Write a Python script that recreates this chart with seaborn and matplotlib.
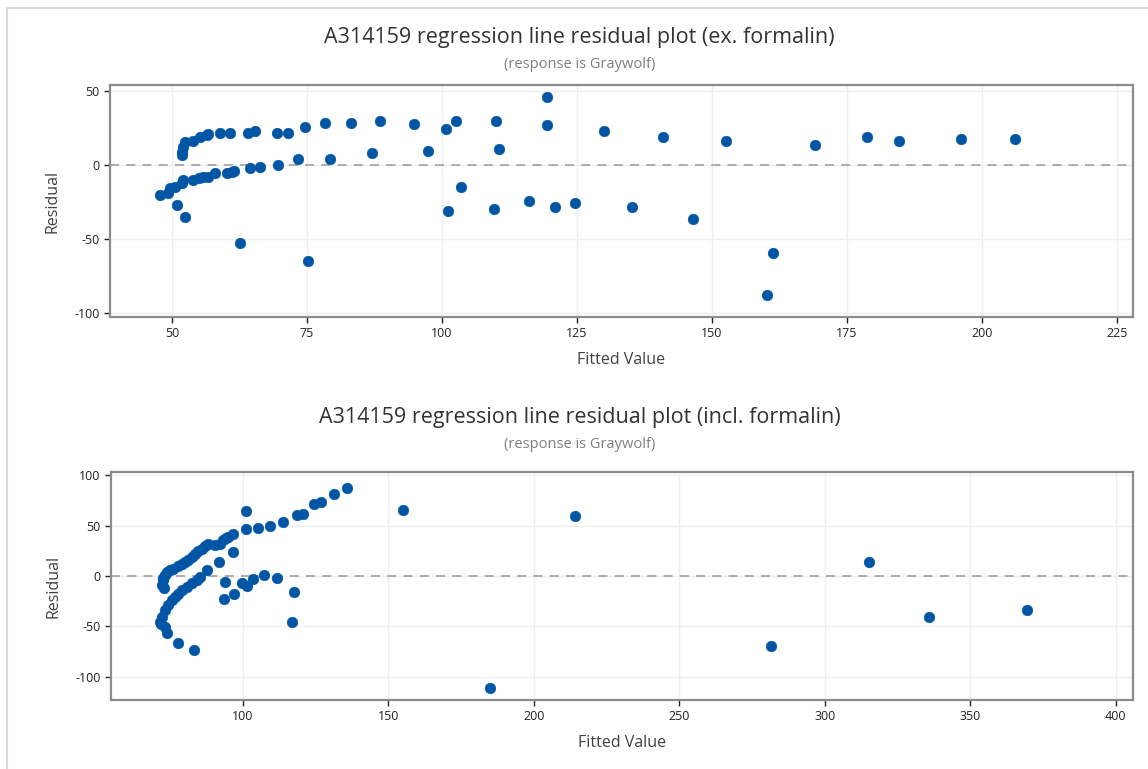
import numpy as np
import pandas as pd
import seaborn as sns
import matplotlib.pyplot as plt
from matplotlib.lines import Line2D

# Datos: residuos vs valores ajustados
ex_fitted = [47.8, 49.3, 49.6, 50.6, 51.8, 52.1, 53.9, 54.9, 55.8, 56.7, 58.0, 60.1, 61.1, 61.4,
             64.4, 66.3, 69.7, 73.4, 79.3,
             50.9, 52.4, 62.6, 75.2,
             51.8, 51.8, 52.1, 52.4, 53.9, 55.2, 56.4, 56.7, 58.9, 60.7, 64.1, 65.4, 69.4, 71.5,
             74.6, 78.3, 83.2,
             88.5, 87.1, 94.9, 97.5, 100.7, 102.6, 101.2, 103.5, 110.1, 110.6, 109.7, 116.1,
             119.4, 119.4, 120.9, 124.6, 130.1, 135.2, 140.9, 146.5, 152.7,
             169.1, 161.4, 160.2, 178.8, 184.7, 196.2, 206.2]
ex_resid = [-20.2, -19.1, -15.7, -14.6, -12.3, -10.1, -10.1, -9.0, -7.9, -7.9, -5.6, -5.6, -4.5, -3.8,
            -2.2, -1.6, 0.0, 4.0, 4.0,
            -26.9, -34.8, -52.8, -64.6,
            9.0, 6.7, 12.3, 15.7, 16.2, 19.1, 20.2, 20.9, 21.8, 21.8, 21.8, 22.9, 21.8, 21.8,
            25.8, 28.5, 28.5,
            29.8, 8.3, 27.4, 9.6, 24.2, 29.8, -31.0, -14.6, 29.8, 10.8, -29.6, -24.2,
            46.0, 26.9, -28.3, -25.8, 22.9, -28.3, 18.9, -36.4, 16.2,
            13.5, -59.5, -87.5, 18.9, 16.2, 17.5, 17.5]

incl_fitted = [72.1, 72.7, 73.3, 73.8, 75.0, 76.1, 77.8, 79.0, 80.1, 81.3, 82.4, 83.6, 84.7, 85.9,
               87.0, 88.1, 90.4, 92.2, 93.3, 94.2, 95.0, 96.7, 101.0, 105.3, 109.3, 113.9, 118.5,
               120.8, 124.6, 127.0, 131.4, 135.7,
               71.5, 72.1, 73.3, 74.4, 75.6, 76.7, 77.8, 79.0, 80.7, 82.4, 84.2, 85.3, 87.6, 91.9,
               96.7, 73.0, 72.5, 72.0,
               73.3, 73.8, 77.8, 83.3,
               101.0, 93.9, 93.5, 97.1, 99.6, 101.3, 103.4, 107.3, 111.6, 117.7, 117.0,
               155.0, 214.1, 185.1, 281.5, 315.3, 335.8, 369.6]
incl_resid = [-9.2, -4.3, 0.7, 4.0, 5.7, 7.3, 9.6, 11.6, 13.9, 15.6, 18.8, 22.2, 24.8, 27.2,
              29.5, 31.4, 30.5, 32.1, 35.4, 38.1, 38.7, 42.1, 46.3, 47.6, 49.6, 53.6, 60.2,
              61.9, 71.8, 73.4, 81.7, 87.7,
              -45.6, -40.7, -34.0, -29.1, -24.1, -20.8, -17.5, -14.2, -10.9, -7.5, -3.6, -1.0, 6.3, 13.9,
              23.8, -12.0, -2.0, -48.0,
              -50.6, -57.1, -67.1, -73.7,
              64.2, -5.9, -23.4, -17.5, -7.5, -10.2, -3.3, 0.7, -2.0, -15.9, -45.6,
              65.9, 59.9, -111.1, -69.4, 14.3, -41.3, -33.7]

titulos = ['A314159 regression line residual plot (ex. formalin)',
           'A314159 regression line residual plot (incl. formalin)']
subtitulo = '(response is Graywolf)'

sns.set_style('white')
plt.rcParams['font.family'] = ['Open Sans', 'DejaVu Sans']
plt.rcParams['axes.unicode_minus'] = False

fig = plt.figure(figsize=(11.48, 7.69), dpi=100)
ax1 = fig.add_axes([0.0958, 0.5878, 0.891, 0.3017])
ax2 = fig.add_axes([0.0967, 0.0897, 0.890, 0.2965])

df1 = pd.DataFrame({'fitted': ex_fitted, 'resid': ex_resid})
df2 = pd.DataFrame({'fitted': incl_fitted, 'resid': incl_resid})

configs = [
    (ax1, df1, np.arange(50, 226, 25), [50, 0, -50, -100], (38.5, 228), (-102.4, 53.9)),
    (ax2, df2, np.arange(100, 401, 50), [100, 50, 0, -50, -100], (54.7, 405.8), (-123.3, 103.2)),
]

for ax, df, xt, yt, xl, yl in configs:
    ax.set_axisbelow(True)
    ax.grid(True, color='#efefef', linewidth=1)
    ax.axhline(0, color='#a6a6a6', linestyle=(0, (5, 4)), linewidth=1.3, zorder=1)
    sns.scatterplot(data=df, x='fitted', y='resid', ax=ax, color='#0055a5',
                    edgecolor='#0055a5', s=60, linewidth=0.3, zorder=3)
    ax.set_xticks(xt)
    ax.set_yticks(yt)
    ax.set_xlim(*xl)
    ax.set_ylim(*yl)
    ax.set_xlabel('Fitted Value', fontsize=11.5, color='#404040', labelpad=8)
    ax.set_ylabel('Residual', fontsize=11.5, color='#404040', labelpad=10)
    ax.tick_params(axis='both', labelsize=9, colors='#222222', direction='out',
                   length=4, width=1, bottom=True, left=True)
    for lado in ['top', 'right', 'bottom', 'left']:
        ax.spines[lado].set_visible(True)
        ax.spines[lado].set_color('#8c8c8c')
        ax.spines[lado].set_linewidth(1.6)

fig.text(0.505, 0.951, titulos[0], ha='center', va='center', fontsize=15.5, color='#333333')
fig.text(0.505, 0.916, subtitulo, ha='center', va='center', fontsize=10.5, color='#7f7f7f')
fig.text(0.505, 0.457, titulos[1], ha='center', va='center', fontsize=15.5, color='#333333')
fig.text(0.505, 0.422, subtitulo, ha='center', va='center', fontsize=10.5, color='#7f7f7f')

# marco exterior de la ventana
fig.add_artist(Line2D([0.006, 0.006], [0, 0.99], transform=fig.transFigure, color='#d9d9d9', linewidth=1.5))
fig.add_artist(Line2D([0.006, 1.0], [0.99, 0.99], transform=fig.transFigure, color='#d9d9d9', linewidth=1.5))

plt.savefig('out.png', dpi=100)
